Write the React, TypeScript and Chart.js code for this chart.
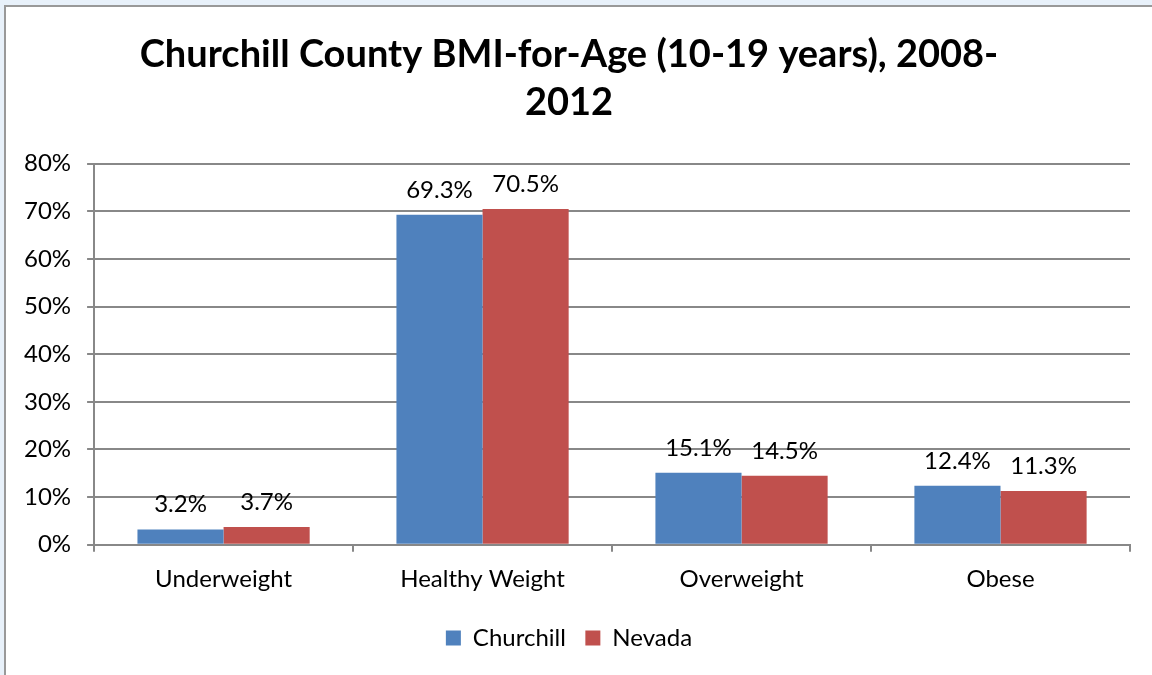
import React, { useEffect, useRef } from "react";
import { Chart, registerables } from "chart.js";

Chart.register(...registerables);

const categories = ["Underweight", "Healthy Weight", "Overweight", "Obese"];
const churchill = [3.2, 69.3, 15.1, 12.4];
const nevada = [3.7, 70.5, 14.5, 11.3];
const seriesNames = ["Churchill", "Nevada"];
const titleLines = ["Churchill County BMI-for-Age (10-19 years), 2008-", "2012"];

const FONT = "Lato, 'Open Sans', sans-serif";

const labelPlugin = {
  id: "barLabels",
  afterDatasetsDraw(chart: any) {
    const ctx = chart.ctx;
    ctx.save();
    ctx.font = `24px ${FONT}`;
    ctx.fillStyle = "#000";
    ctx.textAlign = "center";
    ctx.textBaseline = "alphabetic";
    chart.data.datasets.forEach((ds: any, i: number) => {
      const meta = chart.getDatasetMeta(i);
      meta.data.forEach((bar: any, j: number) => {
        ctx.fillText(ds.data[j].toFixed(1) + "%", bar.x, bar.y - 17);
      });
    });
    ctx.restore();
  },
};

export default function App() {
  const ref = useRef<HTMLCanvasElement>(null);
  useEffect(() => {
    const chart = new Chart(ref.current!, {
      type: "bar",
      data: {
        labels: categories,
        datasets: [
          { label: seriesNames[0], data: churchill, backgroundColor: "#4F81BD" },
          { label: seriesNames[1], data: nevada, backgroundColor: "#C0504D" },
        ],
      },
      options: {
        animation: false,
        responsive: false,
        maintainAspectRatio: false,
        layout: { padding: { left: 2, right: 22, top: 8, bottom: 15 } },
        datasets: { bar: { categoryPercentage: 0.665, barPercentage: 1 } },
        plugins: {
          title: {
            display: true,
            text: titleLines,
            color: "#000",
            font: { family: FONT, size: 38, weight: "bold", lineHeight: 1.26 },
            padding: { top: 16, bottom: 37 },
          },
          legend: {
            position: "bottom",
            labels: {
              color: "#000",
              font: { family: FONT, size: 24 },
              boxWidth: 15,
              boxHeight: 15,
              padding: 19.5,
            },
          },
          tooltip: { enabled: false },
        },
        scales: {
          x: {
            offset: true,
            grid: {
              offset: true,
              drawOnChartArea: false,
              drawTicks: true,
              tickLength: 7,
              color: "#888",
              lineWidth: 2,
            },
            border: { color: "#888", width: 2 },
            ticks: { color: "#000", font: { family: FONT, size: 24 }, padding: 13 },
          },
          y: {
            min: 0,
            max: 80,
            ticks: {
              stepSize: 10,
              color: "#000",
              font: { family: FONT, size: 24 },
              padding: 16,
              callback: (v: any) => v + "%",
            },
            grid: { color: "#888", lineWidth: 2, tickLength: 7 },
            border: { color: "#888", width: 2 },
          },
        },
      },
      plugins: [labelPlugin],
    });
    return () => chart.destroy();
  }, []);

  return (
    <div
      style={{
        position: "fixed",
        left: 0,
        top: 0,
        width: 1152,
        height: 675,
        background: "#E8F1FA",
        overflow: "hidden",
      }}
    >
      <div
        style={{
          position: "absolute",
          left: 4,
          top: 5,
          width: 1160,
          height: 680,
          background: "#fff",
          border: "2px solid #999",
          boxSizing: "border-box",
        }}
      >
        <canvas ref={ref} width={1146} height={668} style={{ display: "block" }} />
      </div>
    </div>
  );
}
